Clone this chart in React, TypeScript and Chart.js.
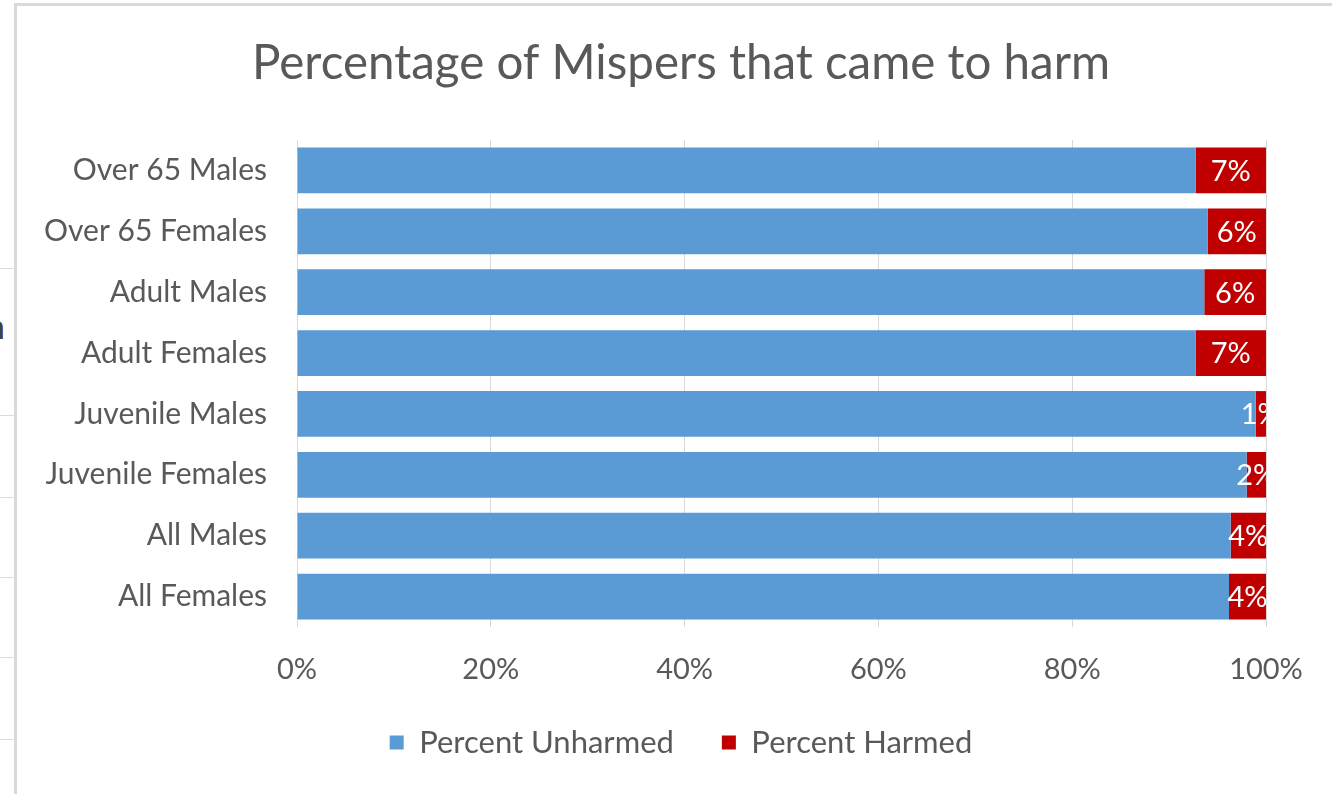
import React, { useEffect, useRef } from "react";
import { Chart, registerables } from "chart.js";

Chart.register(...registerables);

const categories = [
  "Over 65 Males",
  "Over 65 Females",
  "Adult Males",
  "Adult Females",
  "Juvenile Males",
  "Juvenile Females",
  "All Males",
  "All Females",
];
const unharmed = [92.73, 93.97, 93.63, 92.73, 98.93, 98.0, 96.35, 96.18];
const harmed = [7.27, 6.03, 6.37, 7.27, 1.07, 2.0, 3.65, 3.82];
const xTicks = [0, 20, 40, 60, 80, 100];

const TEXT = "#595959";
const FONT = "Lato";

const harmLabels = {
  id: "harmLabels",
  afterDatasetsDraw(chart: any) {
    const { ctx, chartArea } = chart;
    const meta = chart.getDatasetMeta(1);
    ctx.save();
    ctx.beginPath();
    ctx.rect(chartArea.left, chartArea.top, chartArea.right - chartArea.left, chartArea.bottom - chartArea.top);
    ctx.clip();
    ctx.fillStyle = "#ffffff";
    ctx.font = `29px ${FONT}`;
    ctx.textAlign = "center";
    ctx.textBaseline = "middle";
    meta.data.forEach((bar: any, i: number) => {
      const p = bar.getProps(["x", "y", "base"], true);
      const cx = (p.x + p.base) / 2;
      ctx.fillText(Math.round(harmed[i]) + "%", cx, p.y + 1);
    });
    ctx.restore();
  },
};

export default function App() {
  const ref = useRef<HTMLCanvasElement>(null);
  useEffect(() => {
    if (!ref.current) return;
    Chart.defaults.font.family = FONT;
    const chart = new Chart(ref.current, {
      type: "bar",
      data: {
        labels: categories,
        datasets: [
          { label: "Percent Unharmed", data: unharmed, backgroundColor: "#5B9BD5", barPercentage: 0.75, categoryPercentage: 1 },
          { label: "Percent Harmed", data: harmed, backgroundColor: "#C00000", barPercentage: 0.75, categoryPercentage: 1 },
        ],
      },
      options: {
        indexAxis: "y",
        responsive: false,
        animation: false,
        devicePixelRatio: 1,
        layout: { padding: { left: 0, right: 0, top: 0, bottom: 26 } },
        scales: {
          x: {
            stacked: true,
            min: 0,
            max: 100,
            afterBuildTicks: (s: any) => {
              s.ticks = xTicks.map((v) => ({ value: v }));
            },
            afterFit: (s: any) => {
              s.height = 52;
            },
            ticks: {
              callback: (v: any) => v + "%",
              color: TEXT,
              font: { size: 29, family: FONT },
              padding: 25,
              maxRotation: 0,
            },
            grid: { color: "#d9d9d9", lineWidth: 1, drawTicks: false },
            border: { display: false },
          },
          y: {
            stacked: true,
            afterFit: (s: any) => {
              s.width = 297;
            },
            ticks: {
              color: TEXT,
              font: { size: 30, family: FONT },
              padding: 30,
            },
            grid: { display: false, drawTicks: false },
            border: { display: false },
          },
          spacer: {
            type: "linear",
            position: "right",
            display: true,
            afterFit: (s: any) => {
              s.width = 96;
            },
            ticks: { display: false },
            grid: { display: false, drawTicks: false },
            border: { display: false },
          },
        },
        plugins: {
          title: {
            display: true,
            text: "Percentage of Mispers that came to harm",
            color: TEXT,
            font: { size: 47.5, family: FONT, weight: "normal" },
            padding: { top: 35, bottom: 48 },
          },
          legend: {
            position: "bottom",
            labels: {
              boxWidth: 14,
              boxHeight: 14,
              padding: 48,
              color: TEXT,
              font: { size: 31, family: FONT },
            },
          },
          tooltip: { enabled: false },
        },
      },
      plugins: [harmLabels],
    });
    return () => chart.destroy();
  }, []);

  const gridYs = [268, 415, 497, 577, 657, 739];
  return (
    <div style={{ position: "absolute", left: 0, top: 0, width: 1332, height: 794, overflow: "hidden", background: "#fff" }}>
      {gridYs.map((y) => (
        <div key={y} style={{ position: "absolute", left: 0, top: y, width: 15, height: 1, background: "#dcdcdc" }} />
      ))}
      <div style={{ position: "absolute", left: -14, top: 306, fontFamily: "Lato", fontSize: 34, color: "#404040", lineHeight: "40px" }}>n</div>
      <div style={{ position: "absolute", left: 14, top: 3, width: 1400, height: 900, borderLeft: "3px solid #d9d9d9", borderTop: "3px solid #d9d9d9", background: "#fff" }} />
      <canvas ref={ref} width={1362} height={794} style={{ position: "absolute", left: 0, top: 0, width: 1362, height: 794 }} />
    </div>
  );
}
